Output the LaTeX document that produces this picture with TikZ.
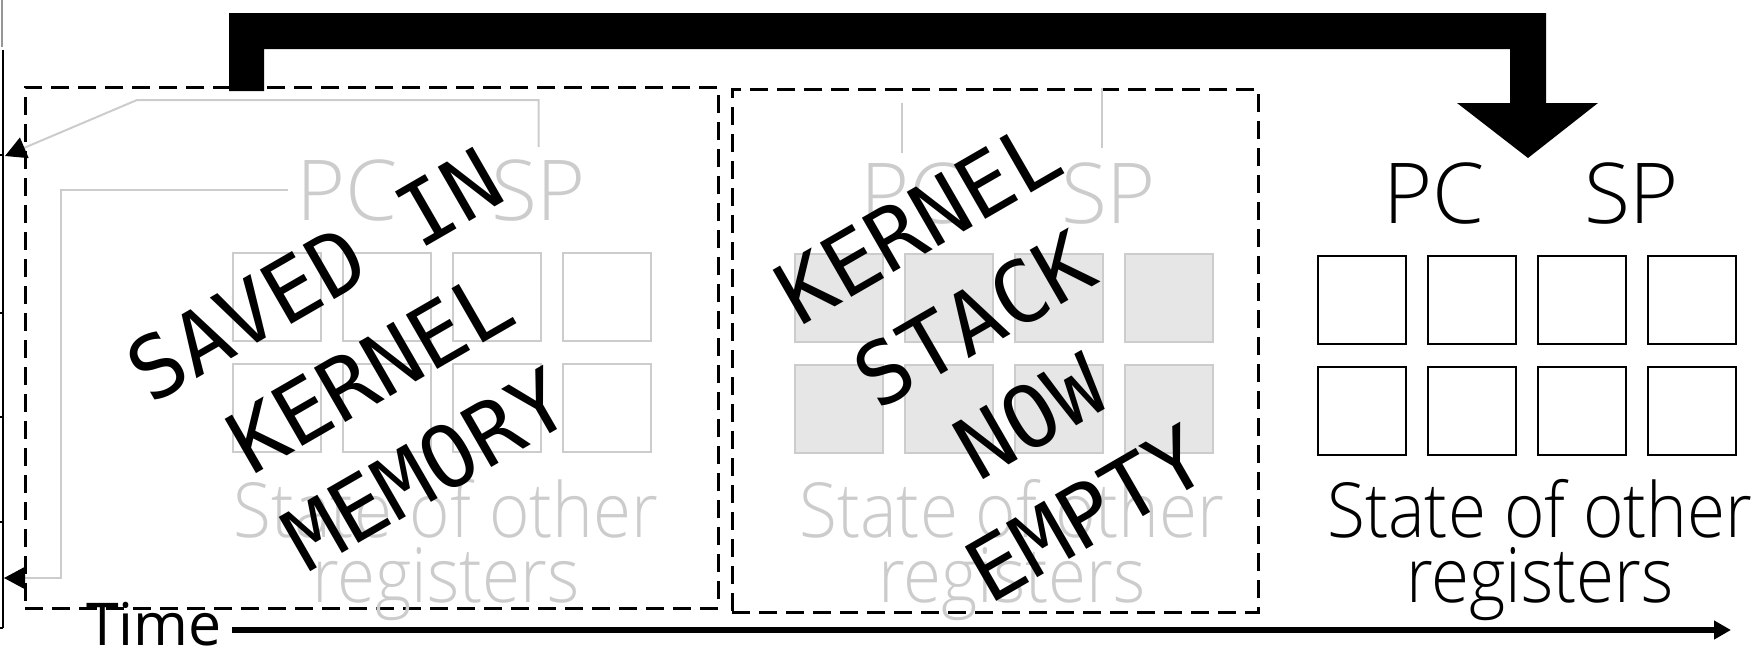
\documentclass[tikz,border=0pt]{standalone}
\usepackage{fontspec}
\setmainfont{Open Sans}
\newfontfamily\lightfont{Open Sans Light}
\newfontfamily\statefont{Open Sans Light}[FakeStretch=0.91]
\newfontfamily\stampfont{DejaVu Sans Mono}
\usetikzlibrary{arrows.meta}
\definecolor{ghost}{RGB}{204,204,204}
\definecolor{ghostfill}{RGB}{230,230,230}
\definecolor{edgegray}{RGB}{150,150,150}

\begin{document}
\begin{tikzpicture}[x=1pt,y=-1pt,
  dashbox/.style={draw, line width=2.5pt, dash pattern=on 18pt off 9pt,
    inner sep=0pt, anchor=north west},
  ghostline/.style={draw=ghost, line width=2pt},
  regbox/.style={draw, line width=2pt, minimum width=88pt, minimum height=88pt,
    inner sep=0pt, anchor=north west},
  oldreg/.style={regbox, draw=ghost},
  emptyreg/.style={regbox, draw=ghost, fill=ghostfill},
  livereg/.style={regbox, draw=black},
  reglabel/.style={font=\lightfont\fontsize{84}{84}\selectfont, inner sep=0pt, anchor=base west},
  statelabel/.style={font=\statefont\fontsize{76}{65}\selectfont, inner sep=0pt, align=center, anchor=base},
  stamp/.style={font=\stampfont\fontsize{86}{112}\selectfont, inner sep=0pt, align=center, rotate=30},
  inarrow/.style={ghostline, -{Triangle[length=21pt,width=22pt,color=black]}}
]
\useasboundingbox (0,0) rectangle (1754,648);

% cropped time axis on the far left
\draw[edgegray, line width=2pt] (1.5,0) -- (1.5,47);
\draw[line width=2pt] (3,50) -- (3,628);
\foreach \ty in {155,313,417,522,628}
  \draw[line width=2pt] (0,\ty) -- (3,\ty);

% frames of the two saved snapshots
\node[dashbox, minimum width=693pt, minimum height=521pt] (savedframe) at (24,86) {};
\node[dashbox, minimum width=526pt, minimum height=523pt] (stackframe) at (731,88) {};

% register files: saved copy, emptied kernel stack, live registers
\foreach \c in {0,1,2,3} {
  \foreach \r in {0,1} {
    \node[oldreg]   (old-\r-\c)  at ({232+110*\c},{252+111*\r}) {};
    \node[emptyreg] (emp-\r-\c)  at ({794+110*\c},{253+111*\r}) {};
    \node[livereg]  (live-\r-\c) at ({1317+110*\c},{255+111*\r}) {};
  }
}

% register names
\node[reglabel, text=ghost] (pcOld)  at (296,220) {PC};
\node[reglabel, text=ghost] (spOld)  at (491,220) {SP};
\node[reglabel, text=ghost] (pcEmp)  at (860,223) {PC};
\node[reglabel, text=ghost] (spEmp)  at (1061,223) {SP};
\node[reglabel] (pcLive) at (1383,223) {PC};
\node[reglabel] (spLive) at (1584,223) {SP};

% the base anchor of a two-line label sits on its last baseline
\node[statelabel, text=ghost] (stOld) at (446,602) {State of other\\registers};
\node[statelabel, text=ghost] (stEmp) at (1012,602) {State of other\\registers};
\node[statelabel] (stLive) at (1540,602) {State of other\\registers};

% where the saved values go
\coordinate (inSP) at (5,156);
\coordinate (inPC) at (4,578);
\draw[inarrow] ([yshift=12pt]spOld.north) -- (spOld.north |- 0,100) -- (137,100) -- (inSP);
\draw[inarrow] ([xshift=-8pt]pcOld.west) -| (61,578) -- (inPC);

\coordinate (pcEmpTop) at (902,103);
\coordinate (spEmpTop) at (1102,88);
\draw[ghostline] (pcEmpTop) -- (pcEmpTop |- 0,153);
\draw[ghostline] (spEmpTop) -- (spEmpTop |- 0,148);

% the big return arrow into the live registers
\coordinate (retTip) at (1528,158);
\fill (229,91) -- (229,13) -- (1546,13) -- (1546,103) -- (1598,103) -- (retTip)
  -- (1457,103) -- (1510,103) -- (1510,49) -- (264,49) -- (264,91) -- cycle;

% stamps
\node[stamp] (stampSaved) at (370,372) {SAVED IN\\KERNEL\\MEMORY};
\node[stamp] (stampEmpty) at (1002,368) {KERNEL\\STACK\\NOW\\EMPTY};

% time axis
\node[font=\fontsize{59}{59}\selectfont, inner sep=0pt, anchor=base west] (timeLabel) at (86,645) {Time};
\coordinate (timeEnd) at (1731,630);
\draw[line width=6pt, -{Triangle[length=17pt,width=18pt]}] (timeLabel.east |- timeEnd) ++(10pt,0) -- (timeEnd);
\end{tikzpicture}
\end{document}
